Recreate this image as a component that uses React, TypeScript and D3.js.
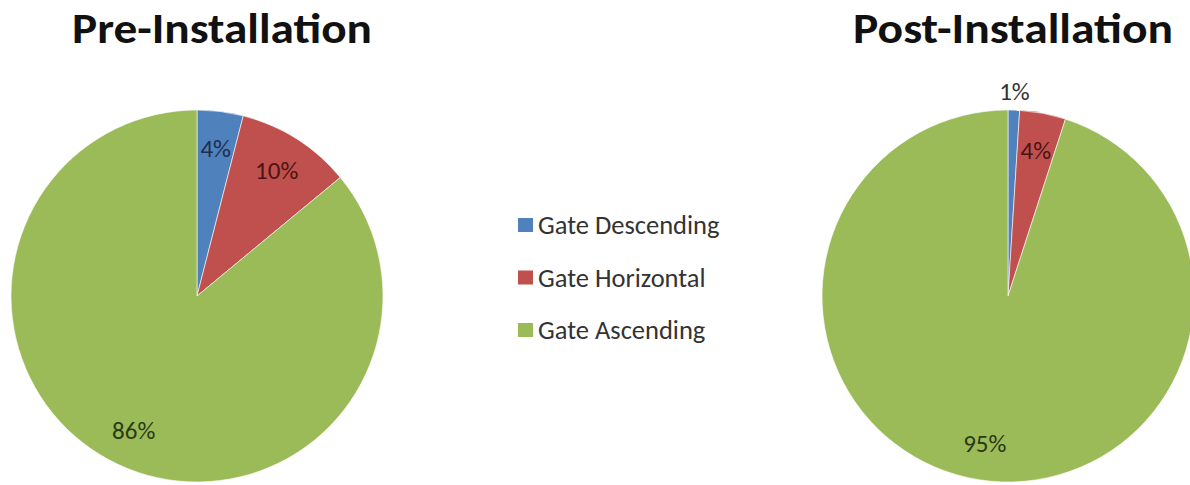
import React from "react";
import * as d3 from "d3";

const categories = ["Gate Descending", "Gate Horizontal", "Gate Ascending"];
const preValues = [4, 10, 86];
const postValues = [1, 4, 95];
const colors = ["#4f81bd", "#c0504d", "#9bbb59"];
const labelColors = ["#1f2f4f", "#4a1414", "#2a3a16"];

const W = 1190;
const H = 485;
const R = 186;
const FONT = "Carlito, Lato, 'Open Sans', sans-serif";

type PieProps = {
  title: string;
  values: number[];
  cx: number;
  cy: number;
  titleX: number;
  titleWidth: number;
  outsideSmall?: boolean;
};

function Pie({ title, values, cx, cy, titleX, titleWidth, outsideSmall }: PieProps) {
  const pie = d3.pie<number>().sort(null).value((d) => d);
  const arcs = pie(values);
  const arc = d3.arc<d3.PieArcDatum<number>>().innerRadius(0).outerRadius(R);
  const labelArc = d3
    .arc<d3.PieArcDatum<number>>()
    .innerRadius(R * 0.8)
    .outerRadius(R * 0.8);
  const outerLabelArc = d3
    .arc<d3.PieArcDatum<number>>()
    .innerRadius(R * 1.1)
    .outerRadius(R * 1.1);
  return (
    <g>
      <text
        x={titleX}
        y={43}
        textAnchor="middle"
        fontFamily={FONT}
        fontWeight="bold"
        fontSize={43}
        textLength={titleWidth}
        lengthAdjust="spacingAndGlyphs"
        fill="#111"
      >
        {title}
      </text>
      <g transform={`translate(${cx},${cy})`}>
        {arcs.map((a, i) => (
          <path key={i} d={arc(a) || ""} fill={colors[i]} stroke="#ffffff" strokeWidth={0.6} />
        ))}
        {arcs.map((a, i) => {
          const outside = outsideSmall && a.value < 2;
          const [x, y] = outside ? outerLabelArc.centroid(a) : labelArc.centroid(a);
          return (
            <text
              key={i}
              x={x}
              y={y}
              dy="0.35em"
              textAnchor="middle"
              fontFamily={FONT}
              fontSize={25}
              fill={outside ? "#333" : labelColors[i]}
            >
              {a.value}%
            </text>
          );
        })}
      </g>
    </g>
  );
}

export default function App() {
  return (
    <svg width={W} height={H} style={{ position: "absolute", left: 0, top: 0, background: "#fff" }}>
      <rect width={W} height={H} fill="#fff" />
      <Pie title="Pre-Installation" values={preValues} cx={197} cy={296} titleX={222} titleWidth={300} />
      <Pie title="Post-Installation" values={postValues} cx={1008} cy={296} titleX={1013} titleWidth={320} outsideSmall />
      <g transform="translate(518,225)">
        {categories.map((c, i) => (
          <g key={c} transform={`translate(0,${i * 52.5})`}>
            <rect x={0} y={-7} width={15} height={14} fill={colors[i]} />
            <text x={20} y={0} dy="0.35em" fontFamily={FONT} fontSize={26.5} fill="#333">
              {c}
            </text>
          </g>
        ))}
      </g>
    </svg>
  );
}
